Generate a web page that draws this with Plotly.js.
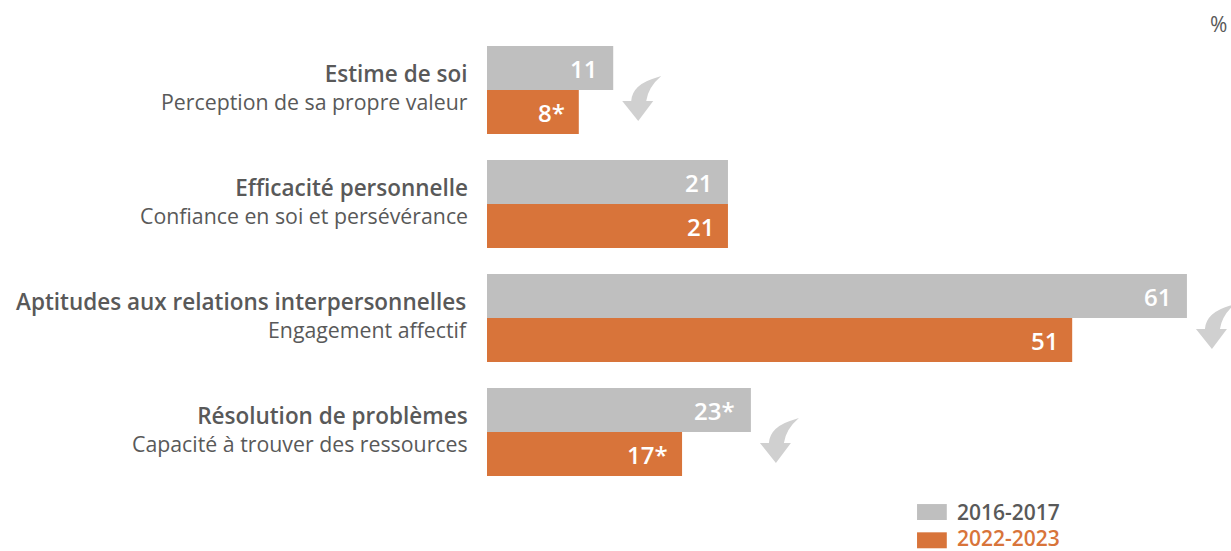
<!DOCTYPE html>
<html>
<head>
<meta charset="utf-8">
<script src="https://cdn.plot.ly/plotly-3.0.1.min.js"></script>
<style>html,body{margin:0;padding:0;background:#fff;}#chart{width:1231px;height:551px;}</style>
</head>
<body>
<div id="chart"></div>
<script>
const categories = ['Estime de soi', 'Efficacité personnelle', 'Aptitudes aux relations interpersonnelles', 'Résolution de problèmes'];
const subtitles = ['Perception de sa propre valeur', 'Confiance en soi et persévérance', 'Engagement affectif', 'Capacité à trouver des ressources'];
const series = ['2016-2017', '2022-2023'];
const values2016 = [11, 21, 61, 23];
const values2022 = [8, 21, 51, 17];
const labels2016 = ['11', '21', '61', '23*'];
const labels2022 = ['8*', '21', '51', '17*'];
const decline = [true, false, true, true];

const GRAY = '#bfbfbf', ORANGE = '#d8743a', TXT = '#595959', ARROW = '#d0d0d0';
const FONT = 'Open Sans, Liberation Sans, Arial, sans-serif';

const traces = [
  {type: 'bar', orientation: 'h', name: series[0], y: categories, x: values2016,
   marker: {color: GRAY}, hoverinfo: 'none'},
  {type: 'bar', orientation: 'h', name: series[1], y: categories, x: values2022,
   marker: {color: ORANGE}, hoverinfo: 'none'}
];

const annotations = [];
const shapes = [];
categories.forEach((c, i) => {
  annotations.push({xref: 'x', yref: 'y', x: 0, y: c, xanchor: 'right', yanchor: 'middle', align: 'right',
    xshift: -17, yshift: 3, showarrow: false,
    text: '<span style="font-size:22.5px;font-weight:600">' + c + '</span><br>' + subtitles[i],
    font: {family: FONT, size: 21.3, color: TXT}});
  annotations.push({xref: 'x', yref: 'y', x: values2016[i], y: c, xanchor: 'right', yanchor: 'middle',
    xshift: -14, yshift: 22, showarrow: false, text: labels2016[i],
    font: {family: FONT, size: 24, color: '#ffffff', weight: 600}});
  annotations.push({xref: 'x', yref: 'y', x: values2022[i], y: c, xanchor: 'right', yanchor: 'middle',
    xshift: -12, yshift: -22, showarrow: false, text: labels2022[i],
    font: {family: FONT, size: 24, color: '#ffffff', weight: 600}});
  if (decline[i]) {
    shapes.push({type: 'path', xref: 'x', yref: 'y', xsizemode: 'pixel', ysizemode: 'pixel',
      xanchor: Math.max(values2016[i], values2022[i]), yanchor: i,
      path: 'M 18,-11 Q 19,6 45,13 L 48,14 Q 35,3 33,-11 L 40,-11 L 25,-31 L 9,-11 Z',
      fillcolor: ARROW, line: {width: 0}});
  }
});

// legend (manual)
const legendColors = [GRAY, ORANGE];
const legendTextColors = [TXT, ORANGE];
series.forEach((s, k) => {
  const y0 = k === 0 ? -0.068 : -0.13;
  shapes.push({type: 'rect', xref: 'paper', yref: 'paper', x0: 0.578, x1: 0.618,
    y0: y0, y1: y0 + 0.035, fillcolor: legendColors[k], line: {width: 0}});
  annotations.push({xref: 'paper', yref: 'paper', x: 0.629, y: y0 + 0.0175, xanchor: 'left', yanchor: 'middle',
    yshift: k === 0 ? 0 : 2,
    showarrow: false, text: s, font: {family: FONT, size: 21, color: legendTextColors[k], weight: 600}});
});
annotations.push({xref: 'paper', yref: 'paper', x: 1, y: 1, xanchor: 'right', yanchor: 'middle',
  xshift: -2, yshift: 9, showarrow: false, text: '%', font: {family: FONT, size: 21, color: TXT}});

const layout = {
  width: 1231, height: 551,
  margin: {l: 487, r: 0, t: 33, b: 62},
  paper_bgcolor: '#ffffff', plot_bgcolor: '#ffffff',
  barmode: 'group', bargap: 0.228, bargroupgap: 0,
  showlegend: false,
  xaxis: {range: [0, 64.84], visible: false, showgrid: false, zeroline: false, fixedrange: true},
  yaxis: {type: 'category', autorange: 'reversed', showticklabels: false, showgrid: false,
          zeroline: false, showline: false, ticks: '', fixedrange: true},
  annotations: annotations,
  shapes: shapes
};

Plotly.newPlot('chart', traces, layout, {displayModeBar: false, staticPlot: true});
</script>
</body>
</html>
